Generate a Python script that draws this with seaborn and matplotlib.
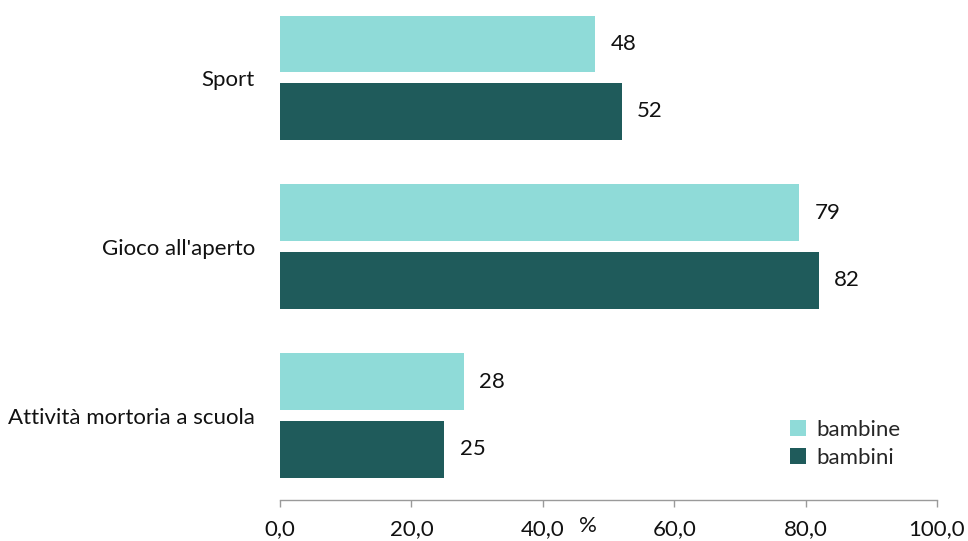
import matplotlib
matplotlib.use("Agg")
import matplotlib.pyplot as plt
import seaborn as sns
import pandas as pd

# Data
categories = ["Sport", "Gioco all'aperto", "Attività mortoria a scuola"]
bambine = [48, 79, 28]
bambini = [52, 82, 25]
series_names = ["bambine", "bambini"]
x_ticks = [0, 20, 40, 60, 80, 100]
x_tick_labels = ["0,0", "20,0", "40,0", "60,0", "80,0", "100,0"]

colors = {"bambine": "#8FDBD8", "bambini": "#1F5B5B"}
FS = 16

df = pd.DataFrame({
    "categoria": categories * 2,
    "valore": bambine + bambini,
    "gruppo": [series_names[0]] * len(categories) + [series_names[1]] * len(categories),
})

sns.set_style("white")
plt.rcParams["font.family"] = ["Lato", "DejaVu Sans"]

fig = plt.figure(figsize=(9.68, 5.41), dpi=100)
ax = fig.add_axes([280 / 968, 41 / 541, 657 / 968, 500 / 541])

sns.barplot(data=df, y="categoria", x="valore", hue="gruppo", orient="h",
            palette=colors, width=0.8, gap=0.16, ax=ax, errorbar=None,
            saturation=1, linewidth=0, edgecolor="none")

for cont in ax.containers:
    ax.bar_label(cont, labels=[f"{v:.0f}" for v in cont.datavalues],
                 padding=11, fontsize=FS, color="#111111")

ax.set_xlim(0, 100)
ax.set_ylim(2.5, -0.46)
ax.set_xticks(x_ticks)
ax.set_xticklabels(x_tick_labels, fontsize=FS, color="#111111")
ax.tick_params(axis="x", bottom=True, direction="out", length=5, width=1,
               color="#9a9a9a", pad=9)
ax.tick_params(axis="y", left=False, length=0, pad=18, labelsize=FS,
               labelcolor="#111111")
ax.set_xlabel("")
ax.set_ylabel("")
for side in ["top", "right", "left"]:
    ax.spines[side].set_visible(False)
ax.spines["bottom"].set_color("#9a9a9a")
ax.spines["bottom"].set_linewidth(1)

ax.text(0.469, -0.052, "%", transform=ax.transAxes, ha="center", va="center",
        fontsize=FS, color="#111111")

leg = ax.legend(loc="upper left", bbox_to_anchor=(790 / 968, 1 - 420 / 541),
                bbox_transform=fig.transFigure, frameon=False, fontsize=FS,
                handlelength=0.7, handleheight=0.7, handletextpad=0.5,
                labelspacing=0.35, borderaxespad=0, borderpad=0)

fig.savefig("out.png", dpi=100)
